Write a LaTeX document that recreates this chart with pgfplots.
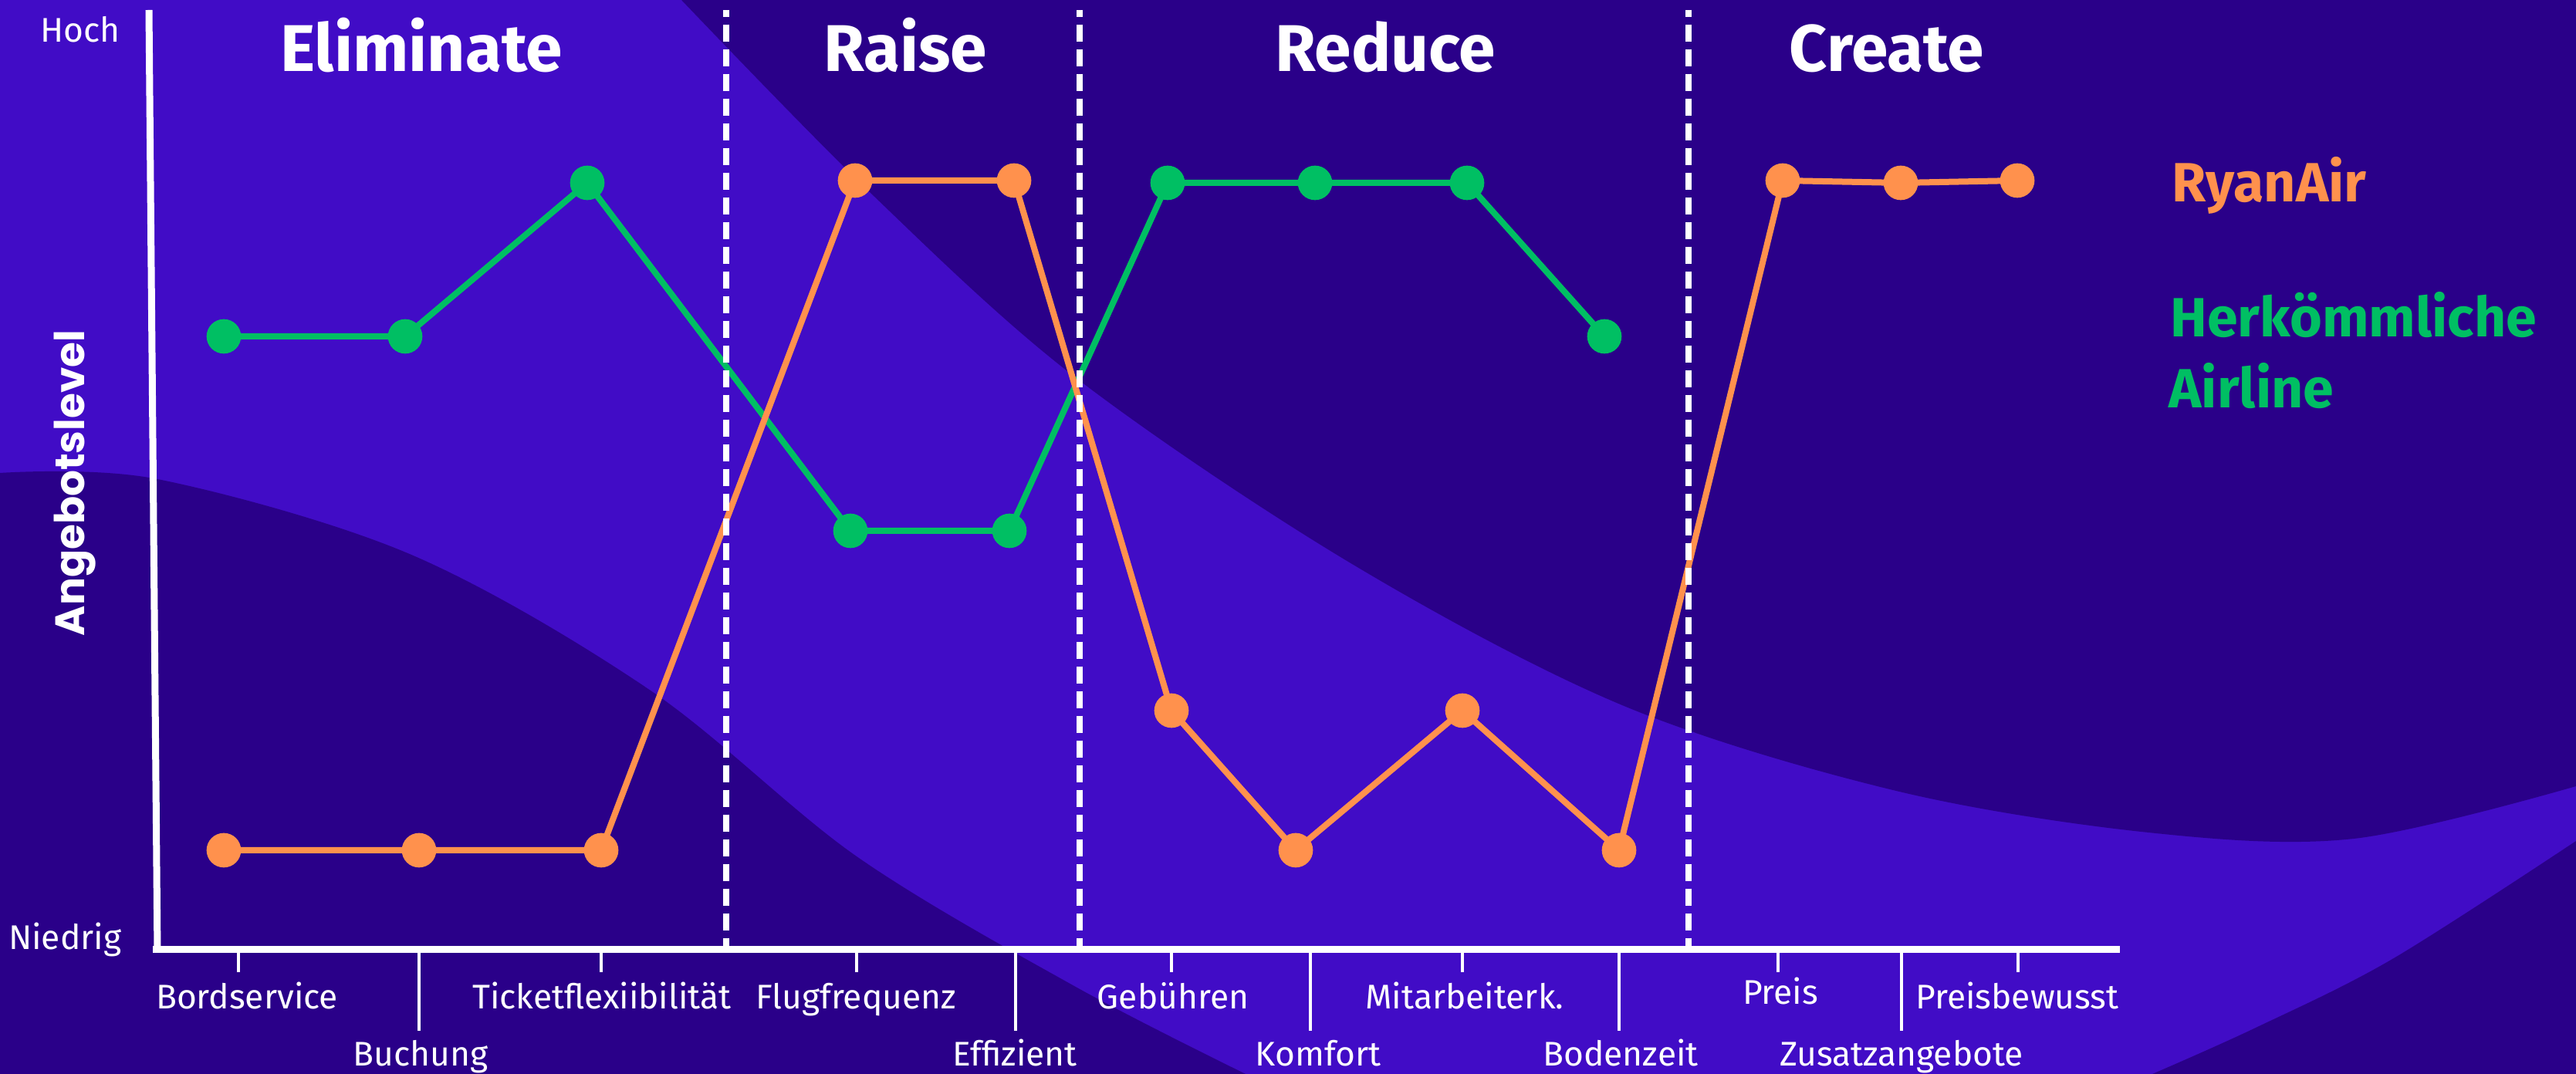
\documentclass[border=0pt]{standalone}
\usepackage{pgfplots}
\pgfplotsset{compat=1.18}
\usepackage{fontspec}
\setmainfont{Fira Sans}
\newfontfamily\popfont{Poppins}
\definecolor{bgdark}{RGB}{42,0,137}
\definecolor{bglight}{RGB}{65,12,198}
\definecolor{ryan}{RGB}{255,145,77}
\definecolor{herk}{RGB}{0,191,99}

\begin{document}
\begin{tikzpicture}
% background (decorative waves), 1 px = 0.3pt
\begin{scope}[x=0.3pt,y=0.3pt]
\fill[bglight] (0,0) rectangle (3338,1392);
\fill[bgdark] plot[smooth,tension=0.55] coordinates {(883,1392) (1128,1142) (1392,904) (1747,664) (2102,478) (2457,367) (2784,313) (3050,305) (3338,373)} -- (3338,1392) -- cycle;
\fill[bgdark] plot[smooth,tension=0.55] coordinates {(0,779) (204,771) (533,673) (843,497) (1110,282) (1392,114) (1614,0)} -- (0,0) -- cycle;
\fill[bgdark] plot[smooth,tension=0.55] coordinates {(3338,302) (3100,149) (2923,60) (2789,0)} -- (3338,0) -- cycle;
\end{scope}

\begin{axis}[
  at={(59.4pt,48.6pt)}, anchor=south west,
  x=0.3pt, y=0.3pt,
  xmin=198, xmax=2747, ymin=162, ymax=1379,
  clip=false,
  axis x line*=bottom, axis y line*=left,
  x axis line style={white, line width=2.7pt},
  y axis line style={draw=none},
  ytick=\empty,
  xtick={309,779,1110,1518,1895,2304,2615},
  xticklabels={},
  extra x ticks={543,1316,1698,2098,2464},
  extra x tick labels={},
  extra x tick style={major tick length=31.8pt},
  major tick length=9pt,
  tick align=outside,
  tick style={white, line width=1.05pt},
]
% y axis line
\draw[white, line width=2.7pt] (axis cs:193,1379) -- (axis cs:204,158);

% Herkoemmliche Airline
\addplot[herk, line width=2.4pt, mark=*, mark size=5.5pt, mark options={draw=none, fill=herk}]
  coordinates {(290,956) (525,956) (761,1155) (1102,704) (1308,704) (1513,1155) (1704,1155) (1901,1155) (2079,956)};
% RyanAir
\addplot[ryan, line width=2.4pt, mark=*, mark size=5.5pt, mark options={draw=none, fill=ryan}]
  coordinates {(290,290) (543,290) (779,290) (1108,1158) (1314,1158) (1518,471) (1679,290) (1895,471) (2098,290) (2310,1158) (2463,1155) (2614,1158)};

% section separators
\draw[white, line width=2.4pt, dash pattern=on 6.6pt off 3pt, dash phase=4pt] (axis cs:941,1379) -- (axis cs:941,162);
\draw[white, line width=2.4pt, dash pattern=on 6.6pt off 3pt, dash phase=4pt] (axis cs:1399,1379) -- (axis cs:1399,162);
\draw[white, line width=2.4pt, dash pattern=on 6.6pt off 3pt, dash phase=4pt] (axis cs:2188,1379) -- (axis cs:2188,162);

% section headings
\begin{scope}[every node/.style={anchor=base, inner sep=0pt, text=white, font=\fontsize{25.7pt}{30pt}\selectfont\bfseries}]
\node at (axis cs:546,1299) {Eliminate};
\node at (axis cs:1173,1299) {Raise};
\node at (axis cs:1795,1299) {Reduce};
\node at (axis cs:2445,1299) {Create};
\end{scope}

% y axis texts
\node[anchor=base east, inner sep=0pt, text=white, font=\fontsize{13.3pt}{16pt}\selectfont] at (axis cs:156,1337) {Hoch};
\node[anchor=base east, inner sep=0pt, text=white, font=\fontsize{13.3pt}{16pt}\selectfont] at (axis cs:158,162) {Niedrig};
\node[rotate=90, anchor=base, inner sep=0pt, text=white, font=\popfont\bfseries\fontsize{16pt}{19pt}\selectfont] at (axis cs:109,766) {Angebotslevel};

% category labels
\begin{scope}[every node/.style={anchor=base, inner sep=0pt, text=white, font=\fontsize{13.3pt}{16pt}\selectfont}]
\node at (axis cs:320,85) {Bordservice};
\node at (axis cs:780,85) {Ticketflexiibilität};
\node at (axis cs:1109,85) {Flugfrequenz};
\node at (axis cs:1520,85) {Gebühren};
\node at (axis cs:1898,85) {Mitarbeiterk.};
\node at (axis cs:2307,91) {Preis};
\node at (axis cs:2614,85) {Preisbewusst};
\node at (axis cs:545,11) {Buchung};
\node at (axis cs:1315,11) {Effizient};
\node at (axis cs:1708,11) {Komfort};
\node at (axis cs:2100,11) {Bodenzeit};
\node at (axis cs:2464,11) {Zusatzangebote};
\end{scope}

% legend texts
\node[anchor=base west, inner sep=0pt, text=ryan, font=\fontsize{21.5pt}{26pt}\selectfont\bfseries] at (axis cs:2814,1130) {RyanAir};
\node[anchor=base west, inner sep=0pt, text=herk, font=\fontsize{21.5pt}{26pt}\selectfont\bfseries] at (axis cs:2812,955) {Herkömmliche};
\node[anchor=base west, inner sep=0pt, text=herk, font=\fontsize{21.5pt}{26pt}\selectfont\bfseries] at (axis cs:2810,863) {Airline};
\end{axis}
\pgfresetboundingbox
\useasboundingbox (0,0) rectangle (1001.4pt,417.6pt);
\end{tikzpicture}
\end{document}
